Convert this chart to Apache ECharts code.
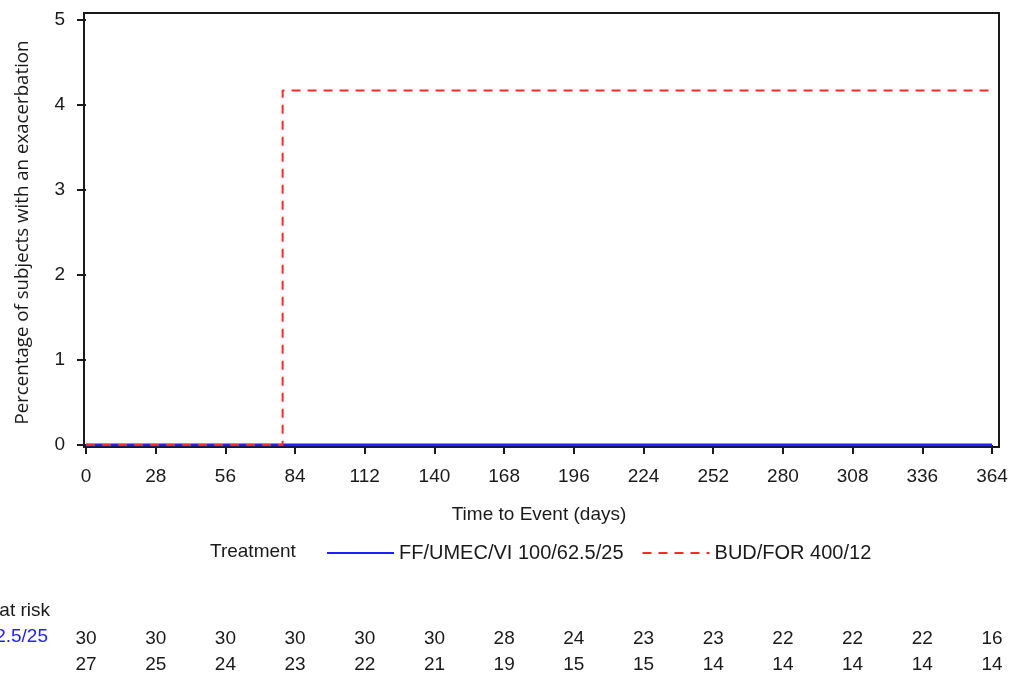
<!DOCTYPE html>
<html>
<head>
<meta charset="utf-8">
<script src="https://cdn.jsdelivr.net/npm/echarts@6/dist/echarts.min.js"></script>
<style>
html,body{margin:0;padding:0;background:#fff;}
#chart{width:1016px;height:674px;}
</style>
</head>
<body>
<div id="chart"></div>
<script>
var xTicks = [0, 28, 56, 84, 112, 140, 168, 196, 224, 252, 280, 308, 336, 364];
var yTicks = [0, 1, 2, 3, 4, 5];
var seriesNames = ['FF/UMEC/VI 100/62.5/25', 'BUD/FOR 400/12'];
var ffumecvi = [[0, 0], [364, 0]];
var budfor = [[0, 0], [79, 4.17], [364, 4.17]];
var atRiskFF = [30, 30, 30, 30, 30, 30, 28, 24, 23, 23, 22, 22, 22, 16];
var atRiskBUD = [27, 25, 24, 23, 22, 21, 19, 15, 15, 14, 14, 14, 14, 14];

var FONT = '"Liberation Sans", Arial, sans-serif';
var FONT2 = '"Open Sans", "Noto Sans", sans-serif';
var FS = 19;
var TXT = '#1a1a1a';
var BLUE = '#1f1fff';
var RED = '#ff2a2a';

function measure(t, size) {
  var c = document.createElement('canvas').getContext('2d');
  c.font = size + 'px ' + FONT;
  return c.measureText(t).width;
}
var row1W = measure(seriesNames[0], FS);
var rowLabelStart = 48 - row1W;

var chart = echarts.init(document.getElementById('chart'));

function riskData(arr) {
  return arr.map(function (v, i) { return [xTicks[i], 0, v]; });
}

var option = {
  animation: false,
  backgroundColor: '#fff',
  textStyle: { fontFamily: FONT },
  grid: [
    { left: 84, top: 13, width: 915, height: 434, show: true, borderColor: '#1a1a1a', borderWidth: 2, backgroundColor: 'transparent' },
    { left: 86, top: 20, width: 906, height: 425 },
    { left: 86, top: 625, width: 906, height: 28 },
    { left: 86, top: 656, width: 906, height: 28 }
  ],
  xAxis: [
    { gridIndex: 0, type: 'value', show: false, min: 0, max: 1 },
    {
      gridIndex: 1, type: 'value', min: 0, max: 364, interval: 28, offset: 2,
      axisLine: { show: false },
      axisTick: { show: true, length: 9, lineStyle: { color: '#1a1a1a', width: 2 } },
      axisLabel: { margin: 20, fontSize: FS, color: TXT, fontFamily: FONT },
      splitLine: { show: false },
      name: 'Time to Event (days)', nameLocation: 'middle', nameGap: 58,
      nameTextStyle: { fontSize: FS, color: TXT, fontFamily: FONT }
    },
    { gridIndex: 2, type: 'value', min: 0, max: 364, show: false },
    { gridIndex: 3, type: 'value', min: 0, max: 364, show: false }
  ],
  yAxis: [
    { gridIndex: 0, type: 'value', show: false, min: 0, max: 1 },
    {
      gridIndex: 1, type: 'value', min: 0, max: 5, interval: 1, offset: 2,
      axisLine: { show: false },
      axisTick: { show: true, length: 9, lineStyle: { color: '#1a1a1a', width: 2 } },
      axisLabel: { margin: 19, fontSize: FS, color: TXT, fontFamily: FONT },
      splitLine: { show: false },
      name: 'Percentage of subjects with an exacerbation', nameLocation: 'middle', nameGap: 52,
      nameTextStyle: { fontSize: 18.7, color: TXT, fontFamily: FONT2 }
    },
    { gridIndex: 2, type: 'value', min: -1, max: 1, show: false },
    { gridIndex: 3, type: 'value', min: -1, max: 1, show: false }
  ],
  legend: {
    left: 321, top: 538, itemWidth: 67, itemHeight: 14, itemGap: 18,
    itemStyle: { opacity: 0 },
    textStyle: { fontSize: 20, color: TXT, fontFamily: FONT, padding: [0, 0, 0, 0] },
    data: seriesNames
  },
  series: [
    {
      name: seriesNames[0], type: 'line', xAxisIndex: 1, yAxisIndex: 1,
      data: ffumecvi, step: 'end', symbol: 'none',
      lineStyle: { color: BLUE, width: 3, type: 'solid' }, itemStyle: { color: BLUE }
    },
    {
      name: seriesNames[1], type: 'line', xAxisIndex: 1, yAxisIndex: 1,
      data: budfor, step: 'end', symbol: 'none',
      lineStyle: { color: RED, width: 2, type: [9, 7] }, itemStyle: { color: RED }
    },
    {
      type: 'scatter', xAxisIndex: 2, yAxisIndex: 2, data: riskData(atRiskFF),
      symbolSize: 0, silent: true, itemStyle: { opacity: 1 },
      label: { show: true, position: 'inside', formatter: function (p) { return p.value[2]; }, fontSize: FS, color: TXT, fontFamily: FONT }
    },
    {
      type: 'scatter', xAxisIndex: 3, yAxisIndex: 3, data: riskData(atRiskBUD),
      symbolSize: 0, silent: true, itemStyle: { opacity: 1 },
      label: { show: true, position: 'inside', formatter: function (p) { return p.value[2]; }, fontSize: FS, color: TXT, fontFamily: FONT }
    }
  ],
  graphic: [
    { type: 'text', x: 210, y: 552, style: { text: 'Treatment', fontSize: FS, fill: TXT, fontFamily: FONT, verticalAlign: 'middle', align: 'left' } },
    { type: 'text', x: 50, y: 611, style: { text: 'Number at risk', fontSize: FS, fill: TXT, fontFamily: FONT, verticalAlign: 'middle', align: 'right' } },
    { type: 'text', x: rowLabelStart, y: 637, style: { text: seriesNames[0], fontSize: FS, fill: BLUE, fontFamily: FONT, verticalAlign: 'middle', align: 'left' } },
    { type: 'text', x: rowLabelStart, y: 665, style: { text: seriesNames[1], fontSize: FS, fill: RED, fontFamily: FONT, verticalAlign: 'middle', align: 'left' } }
  ]
};
chart.setOption(option);
</script>
</body>
</html>
